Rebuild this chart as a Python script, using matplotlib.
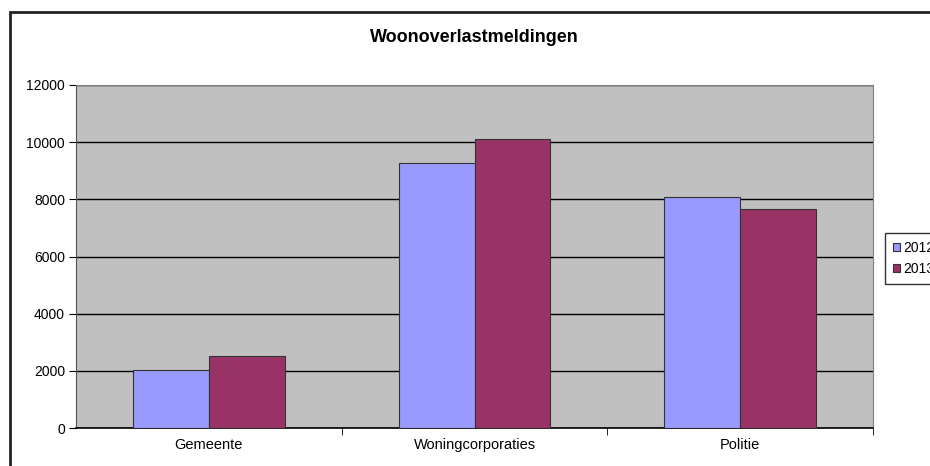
import numpy as np
from matplotlib import pyplot as plt
from matplotlib.patches import Rectangle, Patch

# Data
categories = ['Gemeente', 'Woningcorporaties', 'Politie']
years = ['2012', '2013']
values_2012 = [2020, 9280, 8080]
values_2013 = [2530, 10110, 7660]
colors = ['#9999FF', '#993366']

plt.rcParams['font.family'] = ['Liberation Sans', 'DejaVu Sans']

W, H = 930, 466
fig = plt.figure(figsize=(W / 100, H / 100), dpi=100)

# plot area in pixels: x 76..873, y 85..428
ax = fig.add_axes([76 / W, 1 - 428 / H, (873 - 76) / W, (428 - 85) / H])
ax.set_facecolor('#C0C0C0')

x = np.arange(len(categories))
bw = 0.286
ax.bar(x - bw / 2, values_2012, bw, color=colors[0], edgecolor='#333333', linewidth=0.8, zorder=3)
ax.bar(x + bw / 2, values_2013, bw, color=colors[1], edgecolor='#333333', linewidth=0.8, zorder=3)

ax.set_xlim(-0.5, len(categories) - 0.5)
ax.set_ylim(0, 12000)
ax.set_yticks(np.arange(0, 12001, 2000))
ax.yaxis.grid(True, color='black', linewidth=1, zorder=1)
ax.set_axisbelow(True)

# category labels centred, ticks at category boundaries
ax.set_xticks(x)
ax.set_xticklabels(categories, fontsize=10.5)
ax.tick_params(axis='x', which='major', length=0, pad=7)
ax.set_xticks(np.arange(len(categories)) + 0.5, minor=True)
ax.tick_params(axis='x', which='minor', length=5, direction='out', color='black')
ax.tick_params(axis='y', labelsize=10, length=5, direction='out', pad=3)

for side in ['top', 'right']:
    ax.spines[side].set_color('#808080')
ax.spines['left'].set_color('#555555')
ax.spines['bottom'].set_color('black')
ax.spines['bottom'].set_linewidth(1.2)

ax.set_title('Woonoverlastmeldingen', fontsize=13, fontweight='bold', pad=31)

# legend box partly cut off at the right edge
handles = [Patch(facecolor=c, edgecolor='#333333', linewidth=0.8, label=y) for c, y in zip(colors, years)]
leg = fig.legend(handles=handles, loc='upper left', bbox_to_anchor=(885 / W, 1 - 233 / H),
                 fontsize=10, frameon=True, fancybox=False, edgecolor='black',
                 handlelength=0.5, handleheight=0.5, handletextpad=0.2,
                 borderpad=0.6, labelspacing=0.45, borderaxespad=0)
leg.get_frame().set_linewidth(1)

# outer chart frame
fig.patches.append(Rectangle((10 / W, -0.05), 1.05, 1.05 - 12 / H, transform=fig.transFigure,
                             fill=False, edgecolor='#222222', linewidth=2, zorder=10))

fig.savefig('out.png', dpi=100)
